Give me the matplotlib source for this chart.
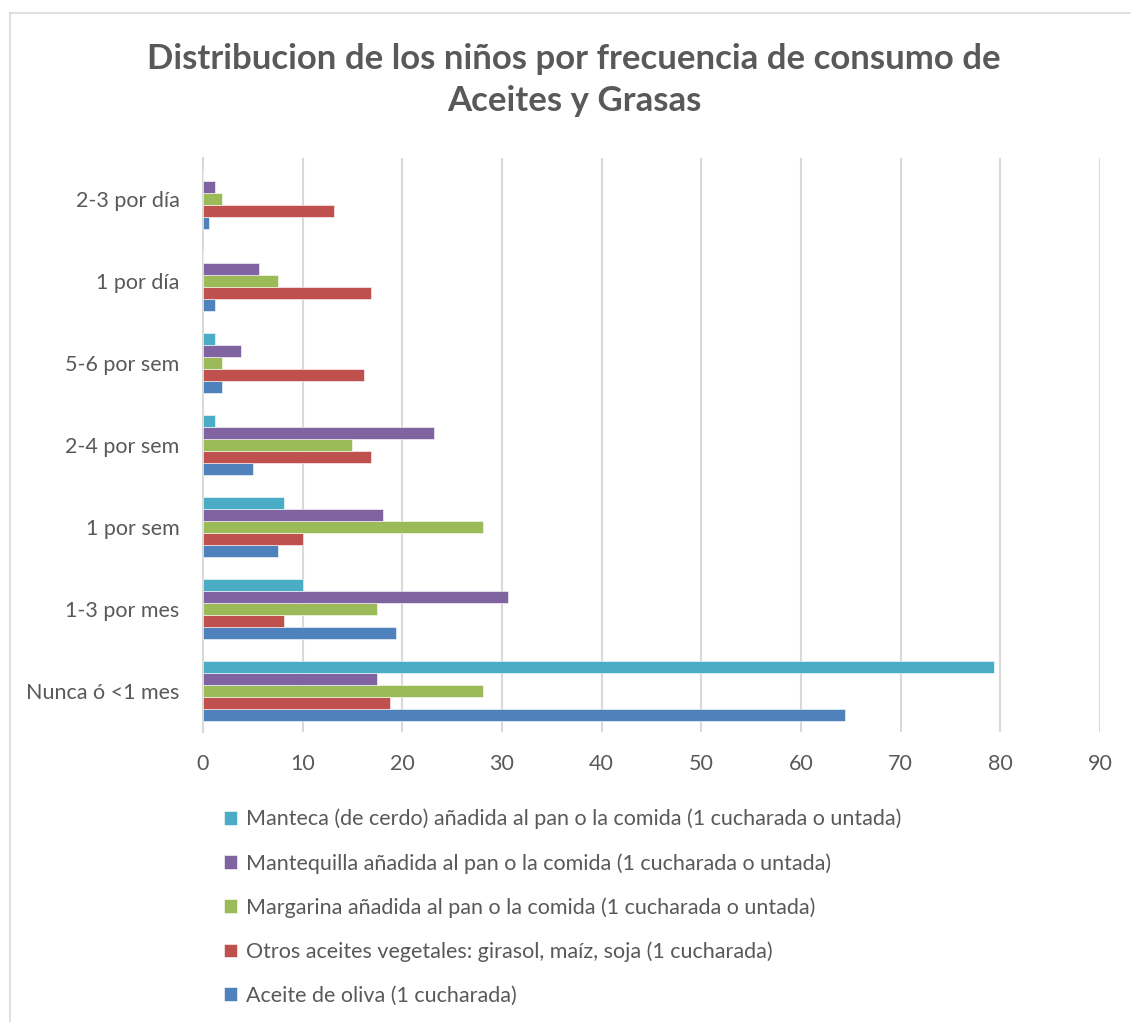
import numpy as np
import matplotlib.pyplot as plt
from matplotlib.lines import Line2D
from matplotlib.patches import Patch

plt.rcParams['font.family'] = ['Lato', 'DejaVu Sans']

categorias = ["Nunca ó <1 mes", "1-3 por mes", "1 por sem", "2-4 por sem",
              "5-6 por sem", "1 por día", "2-3 por día"]

# porcentaje de niños en cada frecuencia, de abajo hacia arriba
aceite_oliva = [64.4, 19.4, 7.5, 5.0, 1.9, 1.25, 0.63]
otros_aceites = [18.8, 8.1, 10.0, 16.9, 16.2, 16.9, 13.1]
margarina = [28.1, 17.5, 28.1, 15.0, 1.9, 7.5, 1.9]
mantequilla = [17.5, 30.6, 18.1, 23.2, 3.8, 5.6, 1.25]
manteca = [79.4, 10.0, 8.1, 1.25, 1.25, 0.0, 0.0]

series = [
    ("Aceite de oliva (1 cucharada)", aceite_oliva, "#4F81BD"),
    ("Otros aceites vegetales: girasol, maíz, soja (1 cucharada)", otros_aceites, "#C0504D"),
    ("Margarina añadida al pan o la comida (1 cucharada o untada)", margarina, "#9BBB59"),
    ("Mantequilla añadida al pan o la comida (1 cucharada o untada)", mantequilla, "#8064A2"),
    ("Manteca (de cerdo) añadida al pan o la comida (1 cucharada o untada)", manteca, "#4BACC6"),
]

texto = "#595959"
rejilla = "#D9D9D9"

fig = plt.figure(figsize=(11.31, 10.22), dpi=100)
ax = fig.add_axes([0.1795, 0.2838, 0.793, 0.5616])

y = np.arange(len(categorias))
h = 0.146
for j, (nombre, valores, color) in enumerate(series):
    ax.barh(y + (j - 2) * h, valores, height=h, color=color,
            edgecolor="white", linewidth=0.4, label=nombre, zorder=3)

ax.set_xlim(0, 90)
ax.set_ylim(-0.5, len(categorias) - 0.5)
ax.set_xticks(np.arange(0, 91, 10))
ax.set_yticks(y)
ax.set_yticklabels(categorias)
ax.tick_params(axis="both", length=0, labelsize=15.5, colors=texto)
ax.tick_params(axis="y", pad=17)
ax.tick_params(axis="x", pad=16)
ax.grid(axis="x", color=rejilla, linewidth=1.5, zorder=0)
for lado in ["top", "right", "bottom"]:
    ax.spines[lado].set_visible(False)
ax.spines["left"].set_color(rejilla)
ax.spines["left"].set_linewidth(1.5)

fig.text(574 / 1131, 1 - 80 / 1022,
         "Distribucion de los niños por frecuencia de consumo de\nAceites y Grasas",
         ha="center", va="center", fontsize=25, fontweight="bold", color=texto,
         linespacing=1.4)

# recuadro del gráfico
fig.add_artist(Line2D([10 / 1131, 1], [1 - 13 / 1022] * 2, color=rejilla,
                      linewidth=1.2, transform=fig.transFigure))
fig.add_artist(Line2D([10 / 1131] * 2, [0, 1 - 13 / 1022], color=rejilla,
                      linewidth=1.2, transform=fig.transFigure))

manejadores = [Patch(facecolor=c, edgecolor="white", linewidth=0.4)
               for _, _, c in series][::-1]
etiquetas = [n for n, _, _ in series][::-1]
fig.legend(manejadores, etiquetas, loc="upper left",
           bbox_to_anchor=(213 / 1131, 1 - 798 / 1022), frameon=False,
           fontsize=15.5, labelcolor=texto, handlelength=0.6, handleheight=0.6,
           handletextpad=0.45, labelspacing=1.1, borderpad=0)

fig.savefig("out.png", dpi=100)
